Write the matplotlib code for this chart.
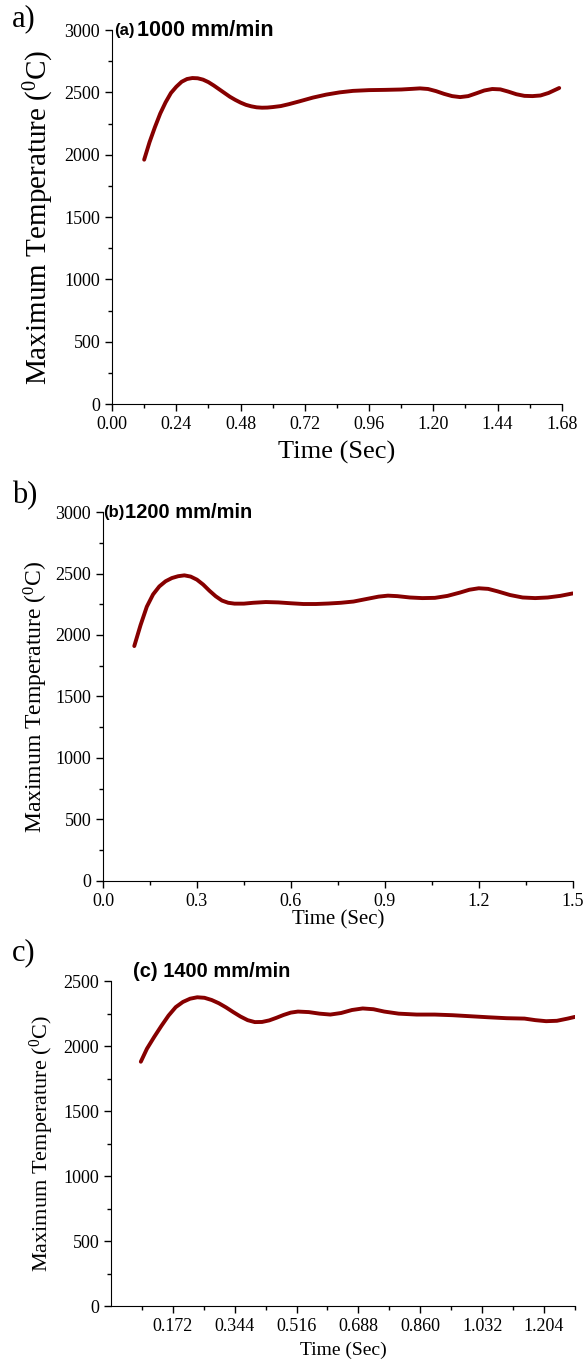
import matplotlib
matplotlib.use('Agg')
import matplotlib.pyplot as plt
from matplotlib.ticker import MultipleLocator, FixedLocator, FormatStrFormatter

plt.rcParams['font.family'] = 'Liberation Serif'
plt.rcParams['mathtext.fontset'] = 'custom'
plt.rcParams['mathtext.rm'] = 'Liberation Serif'
plt.rcParams['mathtext.it'] = 'Liberation Serif'

# maximum temperature vs time, three traverse speeds
t_1000 = [0.12, 0.14, 0.16, 0.18, 0.20, 0.22, 0.24, 0.26, 0.28, 0.30, 0.32, 0.34,
          0.36, 0.38, 0.40, 0.42, 0.44, 0.46, 0.48, 0.50, 0.52, 0.54, 0.56, 0.58,
          0.60, 0.63, 0.66, 0.70, 0.75, 0.80, 0.85, 0.90, 0.96, 1.02, 1.08, 1.12,
          1.15, 1.18, 1.21, 1.24, 1.27, 1.30, 1.33, 1.36, 1.39, 1.42, 1.45, 1.48,
          1.51, 1.54, 1.57, 1.60, 1.63, 1.67]
T_1000 = [1960, 2100, 2220, 2330, 2420, 2495, 2545, 2585, 2607, 2615, 2613, 2602,
          2582, 2555, 2525, 2495, 2465, 2440, 2418, 2400, 2388, 2380, 2377, 2378,
          2382, 2390, 2405, 2428, 2458, 2482, 2500, 2512, 2518, 2520, 2523, 2528,
          2532, 2527, 2510, 2488, 2470, 2462, 2470, 2492, 2515, 2527, 2524, 2506,
          2485, 2472, 2470, 2475, 2495, 2535]

t_1200 = [0.10, 0.12, 0.14, 0.16, 0.18, 0.20, 0.22, 0.24, 0.26, 0.28, 0.30, 0.32,
          0.34, 0.36, 0.38, 0.40, 0.42, 0.45, 0.48, 0.52, 0.56, 0.60, 0.64, 0.68,
          0.72, 0.76, 0.80, 0.84, 0.88, 0.91, 0.94, 0.98, 1.02, 1.06, 1.10, 1.14,
          1.17, 1.20, 1.23, 1.26, 1.30, 1.34, 1.38, 1.42, 1.46, 1.50]
T_1200 = [1910, 2080, 2230, 2330, 2395, 2437, 2463, 2478, 2485, 2475, 2450, 2410,
          2360, 2315, 2280, 2262, 2255, 2255, 2262, 2268, 2265, 2258, 2252, 2252,
          2256, 2262, 2272, 2292, 2312, 2320, 2316, 2305, 2300, 2302, 2318, 2345,
          2368, 2380, 2375, 2355, 2325, 2305, 2300, 2305, 2318, 2338]

t_1400 = [0.083, 0.10, 0.12, 0.14, 0.16, 0.18, 0.20, 0.22, 0.24, 0.26, 0.28, 0.30,
          0.32, 0.34, 0.36, 0.38, 0.40, 0.42, 0.44, 0.46, 0.48, 0.50, 0.52, 0.55,
          0.58, 0.61, 0.64, 0.67, 0.70, 0.73, 0.76, 0.80, 0.85, 0.90, 0.95, 1.00,
          1.05, 1.10, 1.15, 1.18, 1.21, 1.24, 1.27, 1.29]
T_1400 = [1880, 1980, 2070, 2155, 2235, 2300, 2340, 2365, 2376, 2372, 2355, 2330,
          2298, 2262, 2228, 2200, 2185, 2186, 2198, 2218, 2240, 2258, 2266, 2262,
          2250, 2243, 2255, 2278, 2290, 2284, 2266, 2250, 2243, 2243, 2238, 2230,
          2222, 2215, 2212, 2200, 2192, 2195, 2212, 2225]

ticks_c = [0.172, 0.344, 0.516, 0.688, 0.860, 1.032, 1.204]
tick_labels_c = ['0.172', '0.344', '0.516', '0.688', '0.860', '1.032', '1.204']

line_color = '#860000'
ylab = 'Maximum Temperature ($^{0}$C)'
sans = 'Liberation Sans'

fig = plt.figure(figsize=(5.85, 13.65), dpi=100)

ax_a = fig.add_axes([0.1915, 0.704, 0.769, 0.274])
ax_b = fig.add_axes([0.176, 0.3546, 0.803, 0.2703])
ax_c = fig.add_axes([0.1897, 0.0432, 0.793, 0.238])


def style(ax, size):
    ax.spines['top'].set_visible(False)
    ax.spines['right'].set_visible(False)
    ax.tick_params(which='major', direction='out', length=5, width=1, labelsize=size)
    ax.tick_params(which='minor', direction='out', length=3, width=1)


def draw(ax, t, T):
    ax.plot(t, T, color=line_color, lw=2.8, solid_joinstyle='round',
            solid_capstyle='round')


# (a) 1000 mm/min
draw(ax_a, t_1000, T_1000)
ax_a.set_xlim(0, 1.68)
ax_a.set_ylim(0, 3000)
ax_a.xaxis.set_major_locator(MultipleLocator(0.24))
ax_a.xaxis.set_minor_locator(MultipleLocator(0.12))
ax_a.yaxis.set_major_locator(MultipleLocator(500))
ax_a.yaxis.set_minor_locator(MultipleLocator(250))
ax_a.xaxis.set_major_formatter(FormatStrFormatter('%.2f'))
style(ax_a, 13)
ax_a.set_xlabel('Time (Sec)', fontsize=19, labelpad=6)
ax_a.set_ylabel(ylab, fontsize=21, labelpad=6)
ax_a.text(0.005, 1.0, '(a)', transform=ax_a.transAxes, family=sans,
          fontsize=12, fontweight='bold', va='center')
ax_a.text(0.055, 1.0, '1000 mm/min', transform=ax_a.transAxes, family=sans,
          fontsize=15.5, fontweight='bold', va='center')

# (b) 1200 mm/min
draw(ax_b, t_1200, T_1200)
ax_b.set_xlim(0, 1.5)
ax_b.set_ylim(0, 3000)
ax_b.xaxis.set_major_locator(MultipleLocator(0.3))
ax_b.xaxis.set_minor_locator(MultipleLocator(0.15))
ax_b.yaxis.set_major_locator(MultipleLocator(500))
ax_b.yaxis.set_minor_locator(MultipleLocator(250))
ax_b.xaxis.set_major_formatter(FormatStrFormatter('%.1f'))
style(ax_b, 13)
ax_b.set_xlabel('Time (Sec)', fontsize=15, labelpad=0)
ax_b.set_ylabel(ylab, fontsize=17, labelpad=4)
ax_b.text(0.0, 1.0, '(b)', transform=ax_b.transAxes, family=sans,
          fontsize=12, fontweight='bold', va='center')
ax_b.text(0.047, 1.0, '1200 mm/min', transform=ax_b.transAxes, family=sans,
          fontsize=14.5, fontweight='bold', va='center')

# (c) 1400 mm/min
draw(ax_c, t_1400, T_1400)
ax_c.set_xlim(0, 1.29)
ax_c.set_ylim(0, 2500)
ax_c.xaxis.set_major_locator(FixedLocator(ticks_c))
ax_c.set_xticklabels(tick_labels_c)
ax_c.xaxis.set_minor_locator(FixedLocator([0.086 + 0.172 * i for i in range(8)]))
ax_c.yaxis.set_major_locator(MultipleLocator(500))
ax_c.yaxis.set_minor_locator(MultipleLocator(250))
style(ax_c, 13)
ax_c.set_xlabel('Time (Sec)', fontsize=14, labelpad=5)
ax_c.set_ylabel(ylab, fontsize=16, labelpad=5)
ax_c.text(0.047, 1.03, '(c) 1400 mm/min', transform=ax_c.transAxes,
          family=sans, fontsize=14.5, fontweight='bold', va='center')

# panel letters
fig.text(0.02, 0.986, 'a)', fontsize=22, va='center')
fig.text(0.02, 0.637, 'b)', fontsize=22, va='center')
fig.text(0.02, 0.302, 'c)', fontsize=22, va='center')

fig.savefig('out.png', dpi=100)
